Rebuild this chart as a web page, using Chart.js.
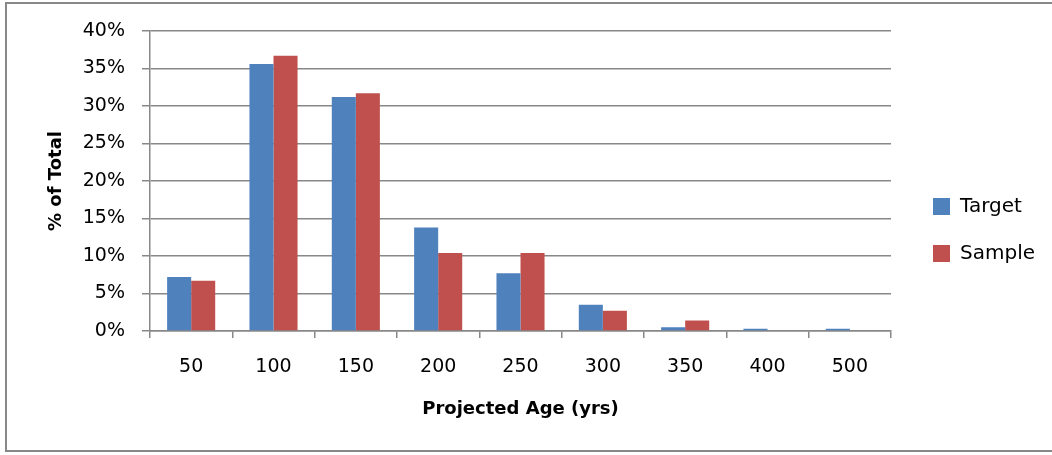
<!DOCTYPE html>
<html lang="en">
<head>
    <meta charset="UTF-8">
    <title>Projected Age</title>
    <style>
        body{ margin: 0; background: #fff; overflow: hidden; }
        #marco{ position: absolute; left: 5px; top: 2px; width: 1060px; height: 450px;
                border: 2px solid #888; box-sizing: border-box; pointer-events: none; }
        #grafico{ position: absolute; left: 0; top: 0; }
    </style>
</head>
<body>
    <canvas id="grafico" width="1052" height="455"></canvas>
    <div id="marco"></div>

    <script src="https://cdn.jsdelivr.net/npm/chart.js"></script>
    <script>
        const categorias = ['50', '100', '150', '200', '250', '300', '350', '400', '500']
        const target = [7.2, 35.6, 31.2, 13.8, 7.7, 3.5, 0.5, 0.3, 0.3]
        const sample = [6.7, 36.7, 31.7, 10.4, 10.4, 2.7, 1.4, 0, 0]
        const ticksY = [0, 5, 10, 15, 20, 25, 30, 35, 40]

        const gris = '#888888'
        const fuente = 'DejaVu Sans'

        const contexto = document.querySelector('#grafico')
        const grafico = new Chart(contexto, {
            type: 'bar',
            data: {
                labels: categorias,
                datasets: [
                    { label: 'Target', data: target, backgroundColor: '#4F81BD' },
                    { label: 'Sample', data: sample, backgroundColor: '#C0504D' }
                ]
            },
            options: {
                responsive: false,
                animation: false,
                layout: { padding: { left: 7, top: 10, bottom: 5, right: 7 } },
                datasets: { bar: { categoryPercentage: 0.584, barPercentage: 1 } },
                plugins: {
                    tooltip: { enabled: false },
                    legend: {
                        position: 'right',
                        labels: {
                            boxWidth: 17, boxHeight: 17, padding: 27,
                            color: '#000', font: { family: fuente, size: 20 }
                        }
                    }
                },
                scales: {
                    x: {
                        grid: { drawOnChartArea: false, color: gris, lineWidth: 1.5, tickLength: 7, offset: true },
                        border: { color: gris, width: 1.5 },
                        ticks: { color: '#000', padding: 18, font: { family: fuente, size: 19 } },
                        title: { display: true, text: 'Projected Age (yrs)', color: '#000',
                                 padding: { top: 0, bottom: 30 }, font: { family: fuente, size: 18, weight: 'bold' } },
                        afterFit: s => { s.height = 119 }
                    },
                    y: {
                        min: 0, max: 40,
                        afterBuildTicks: s => { s.ticks = ticksY.map(v => ({ value: v })) },
                        grid: { color: gris, lineWidth: 1.5, tickLength: 8 },
                        border: { color: gris, width: 1.5 },
                        ticks: { color: '#000', padding: 17, font: { family: fuente, size: 19 },
                                 callback: v => v + '%' },
                        title: { display: true, text: '% of Total', color: '#000',
                                 padding: { top: 39, bottom: 0 }, font: { family: fuente, size: 18, weight: 'bold' } },
                        afterFit: s => { s.width = 143 }
                    },
                    arriba: {
                        position: 'top', display: true,
                        grid: { display: false }, border: { display: false },
                        ticks: { display: false },
                        afterFit: s => { s.height = 21 }
                    },
                    hueco: {
                        position: 'right', display: true,
                        grid: { display: false }, border: { display: false },
                        ticks: { display: false },
                        afterFit: s => { s.width = 15 }
                    }
                }
            }
        })
    </script>
</body>
</html>
